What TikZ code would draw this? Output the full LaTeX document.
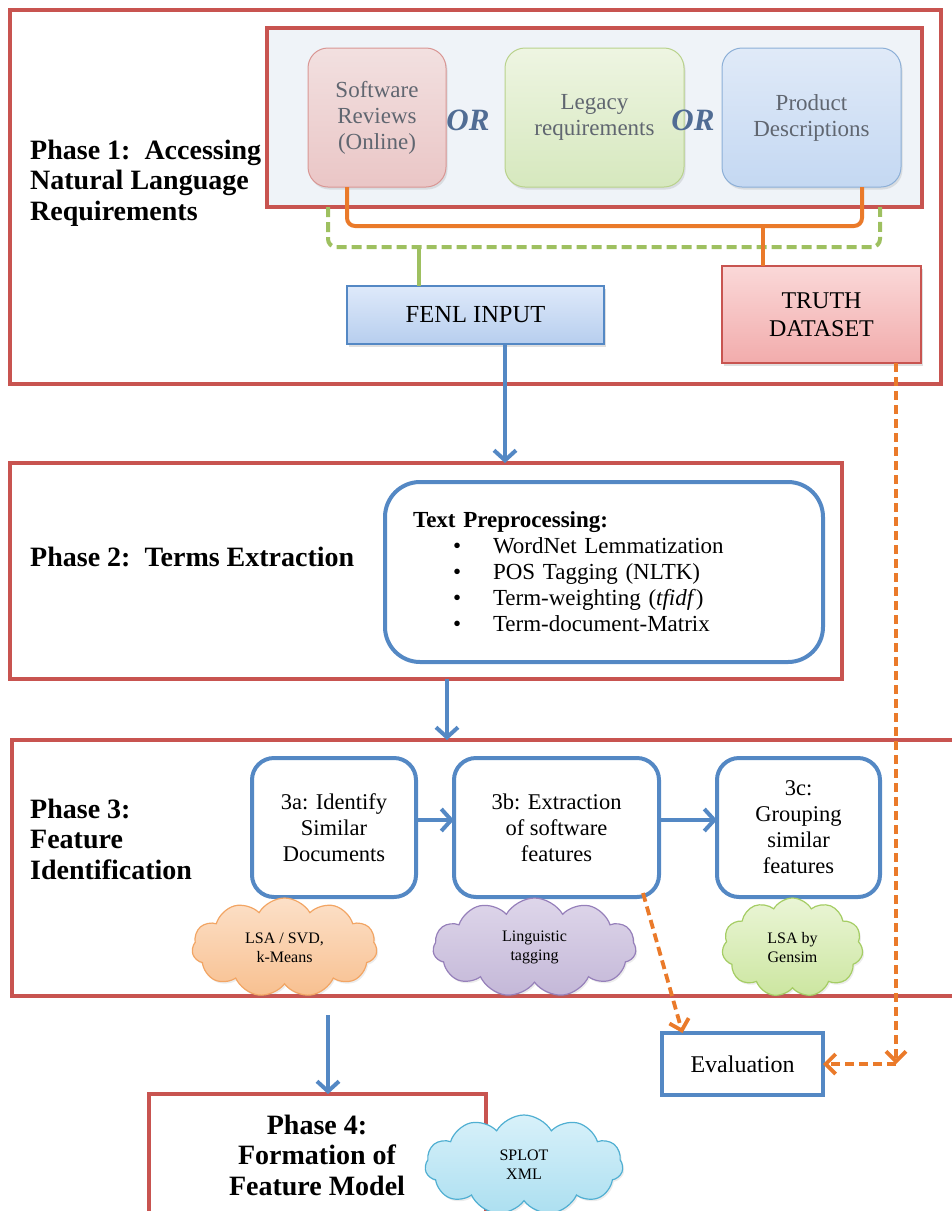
\documentclass[tikz,border=0pt]{standalone}
\usepackage{fontspec}
\setmainfont{Liberation Serif}
\usepackage{xcolor}
\usepackage{tikz}
\usetikzlibrary{shapes,arrows,arrows.meta,positioning,calc,shadows}
\definecolor{phasered}{RGB}{200,84,80}
\definecolor{flowblue}{RGB}{84,136,196}
\definecolor{feedorange}{RGB}{234,122,42}
\definecolor{fetchgreen}{RGB}{158,192,96}
\definecolor{orblue}{RGB}{80,108,148}
\definecolor{srcgray}{RGB}{96,102,112}
\definecolor{panelbg}{RGB}{239,243,248}

\begin{document}
\begin{tikzpicture}[x=1pt, y=-1pt, >=stealth, font=\fontsize{23}{26}\selectfont]
        % Styles
        \tikzstyle{phase} = [rectangle, draw=phasered, line width=3.5pt, inner sep=0pt, outer sep=0pt]
        \tikzstyle{phasetext} = [font=\fontsize{28}{30.5}\selectfont\bfseries, align=left, anchor=west, inner sep=0pt]
        \tikzstyle{source} = [rectangle, rounded corners=20pt, line width=1pt, minimum height=139pt, text=srcgray, align=center, inner sep=0pt, outer sep=0pt, drop shadow={opacity=0.2, shadow xshift=1.5pt, shadow yshift=-2.5pt}]
        \tikzstyle{orword} = [font=\fontsize{31}{31}\selectfont\bfseries\itshape, text=orblue, inner sep=0pt]
        \tikzstyle{dataset} = [rectangle, line width=1.2pt, align=center, inner sep=0pt, outer sep=0pt, drop shadow={opacity=0.25, shadow xshift=1.5pt, shadow yshift=-2.5pt}]
        \tikzstyle{stage} = [rectangle, draw=flowblue, line width=4pt, rounded corners=22pt, fill=white, minimum height=139pt, align=center, font=\fontsize{22.5}{26}\selectfont, inner sep=0pt, outer sep=0pt]
        \tikzstyle{tool} = [cloud, cloud puffs=11, cloud puff arc=120, cloud ignores aspect, line width=1.2pt, minimum height=99pt, align=center, font=\fontsize{16}{19}\selectfont, inner sep=0pt, drop shadow={opacity=0.15, shadow xshift=1.5pt, shadow yshift=-2pt}]
        \tikzstyle{flow} = [draw=flowblue, line width=4pt, -{Straight Barb[length=10pt,width=22pt]}]
        \tikzstyle{feed} = [draw=feedorange, line width=4pt, rounded corners=8pt]
        \tikzstyle{fetch} = [draw=fetchgreen, line width=4pt, dash pattern=on 10pt off 5pt, rounded corners=8pt]
        \tikzstyle{check} = [draw=feedorange, line width=3.8pt, dash pattern=on 9pt off 5pt, -{Straight Barb[length=10pt,width=20pt]}]

        \useasboundingbox (0,0) rectangle (952,1211);
        \clip (0,0) rectangle (952,1211);

        % Phase 1
        \node [phase, minimum width=931pt, minimum height=374pt] (p1frame) at (475.5,197) {};
        \node [phase, fill=panelbg, minimum width=655pt, minimum height=179pt] (srcframe) at (594.5,117.5) {};
        \node [phasetext] (p1label) at (30,183) {Phase 1:\ \ Accessing\\Natural Language\\Requirements};

        \node [source, minimum width=138pt, draw={rgb,255:red,217;green,150;blue,148}, top color={rgb,255:red,242;green,224;blue,224}, bottom color={rgb,255:red,234;green,198;blue,198}] (sw) at (377,117.5) {Software\\Reviews\\(Online)};
        \node [source, minimum width=179pt, right=59pt of sw, draw={rgb,255:red,185;green,210;blue,140}, top color={rgb,255:red,238;green,245;blue,226}, bottom color={rgb,255:red,214;green,232;blue,190}] (legacy) {Legacy\\requirements};
        \node [source, minimum width=179pt, right=38pt of legacy, draw={rgb,255:red,140;green,175;blue,215}, top color={rgb,255:red,224;green,234;blue,248}, bottom color={rgb,255:red,196;green,216;blue,242}] (pd) {Product\\Descriptions};
        \node [orword] (or1) at (468,120) {OR};
        \node [orword] (or2) at (693,120) {OR};

        \node [dataset, draw=flowblue, minimum width=257pt, minimum height=58pt, top color={rgb,255:red,222;green,233;blue,250}, bottom color={rgb,255:red,183;green,206;blue,238}, font=\fontsize{24.5}{28}\selectfont] (fenl) at (475.5,315) {FENL INPUT};
        \node [dataset, draw=phasered, minimum width=199pt, minimum height=97pt, top color={rgb,255:red,250;green,216;blue,216}, bottom color={rgb,255:red,242;green,172;blue,172}, font=\fontsize{24}{28}\selectfont] (truth) at (821.5,314.5) {TRUTH\\DATASET};

        \coordinate (gleft) at (328,207);
        \coordinate (gright) at (880,207);
        \coordinate (gbus) at (419,247);
        \coordinate (obus) at (763,226);

        % Phase 2
        \node [phase, minimum width=832pt, minimum height=216pt] (p2frame) at (426,571) {};
        \node [phasetext] (p2label) at (30,557) {Phase 2:\ \ Terms Extraction};
        \node [rectangle, draw=flowblue, line width=4pt, rounded corners=35pt, fill=white, text width=382pt, inner xsep=28pt, minimum height=180pt, align=left, outer sep=0pt] (prep) at (604,572) {%
          \textbf{Text Preprocessing:}\\
          \hspace*{40pt}\makebox[40pt][l]{\textbullet}WordNet Lemmatization\\
          \hspace*{40pt}\makebox[40pt][l]{\textbullet}POS Tagging (NLTK)\\
          \hspace*{40pt}\makebox[40pt][l]{\textbullet}Term-weighting (\textit{tfidf})\\
          \hspace*{40pt}\makebox[40pt][l]{\textbullet}Term-document-Matrix};

        % Phase 3
        \node [phase, minimum width=988pt, minimum height=256pt] (p3frame) at (506,868) {};
        \node [phasetext] (p3label) at (30,839) {Phase 3:\\Feature\\Identification};
        \node [stage, minimum width=164pt] (s3a) at (334,827.5) {3a: Identify\\Similar\\Documents};
        \node [stage, minimum width=205pt, right=38pt of s3a] (s3b) {3b: Extraction\\of software\\features};
        \node [stage, minimum width=163pt, right=58pt of s3b] (s3c) {3c:\\Grouping\\similar\\features};

        \node [tool, minimum width=185pt, draw={rgb,255:red,242;green,165;blue,100}, top color={rgb,255:red,252;green,224;blue,200}, bottom color={rgb,255:red,248;green,192;blue,144}] (lsa) at (284.5,947.5) {LSA / SVD,\\k-Means};
        \node [tool, minimum width=203pt, draw={rgb,255:red,150;green,128;blue,186}, top color={rgb,255:red,222;green,214;blue,234}, bottom color={rgb,255:red,196;green,184;blue,216}] (ling) at (534.5,947.5) {Linguistic\\tagging};
        \node [tool, minimum width=141pt, draw={rgb,255:red,165;green,205;blue,100}, top color={rgb,255:red,234;green,245;blue,214}, bottom color={rgb,255:red,204;green,230;blue,160}] (gensim) at (792.5,947.5) {LSA by\\Gensim};

        \node [rectangle, draw=flowblue, line width=3.5pt, minimum width=161pt, minimum height=62pt, fill=white, outer sep=0pt, font=\fontsize{24}{28}\selectfont] (eval) at (742.5,1064) {Evaluation};
        \coordinate (evcorner) at (896,1064);

        % Phase 4
        \coordinate (p4in) at (328,1015);
        \node [phase, minimum width=337pt, minimum height=166pt] (p4frame) at (317.5,1177) {};
        \node [phasetext, anchor=center, align=center] (p4label) at (317,1155) {Phase 4:\\Formation of\\Feature Model};
        \node [tool, minimum width=198pt, minimum height=100pt, draw={rgb,255:red,80;green,175;blue,210}, top color={rgb,255:red,216;green,241;blue,250}, bottom color={rgb,255:red,172;green,223;blue,240}] (splot) at (524,1165) {SPLOT\\XML};

        % Edges
        \draw [fetch] (gleft) |- (gbus) -| (gright);
        \draw [fetchgreen, line width=4pt] (gbus) -- (gbus |- fenl.north);
        \draw [feed] ([xshift=-30pt]sw.south) |- (obus) -| ([xshift=50.5pt]pd.south);
        \draw [feed] (obus) -- (obus |- truth.north);

        \draw [flow] ([xshift=29.5pt]fenl.south) -- ([xshift=29.5pt]fenl.south |- p2frame.north);
        \draw [flow] ([xshift=21pt]p2frame.south) -- ([xshift=21pt]p2frame.south |- p3frame.north);
        \draw [flow] ([yshift=7.5pt]s3a.east) -- ([yshift=7.5pt]s3b.west);
        \draw [flow] ([yshift=7.5pt]s3b.east) -- ([yshift=7.5pt]s3c.west);
        \draw [flow] (p4in) -- (p4in |- p4frame.north);

        \draw [check] ([xshift=-16pt,yshift=4pt]s3b.south east) -- ([xshift=-60pt]eval.north);
        \draw [check] ([xshift=-25pt]truth.south east) -- (evcorner);
        \draw [check] (evcorner) -- (eval.east);

    \end{tikzpicture}
\end{document}
